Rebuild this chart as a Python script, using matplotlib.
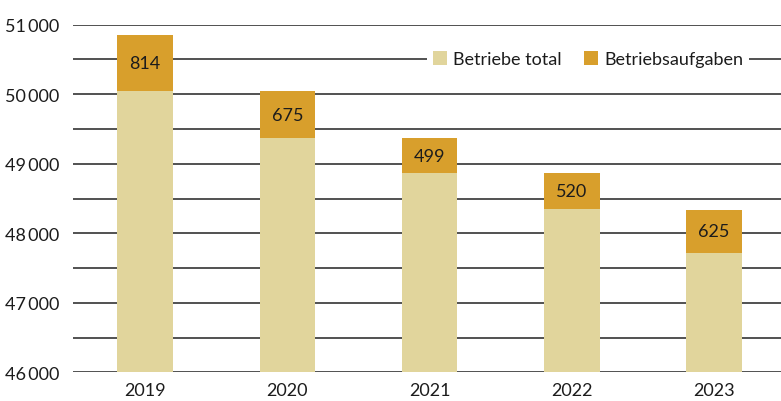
import matplotlib
matplotlib.use("Agg")
import matplotlib.pyplot as plt
from matplotlib.patches import Patch

plt.rcParams['font.family'] = ['Lato', 'DejaVu Sans']

years = ["2019", "2020", "2021", "2022", "2023"]
base_values = [50042, 49370, 48866, 48346, 47713]
aufgaben = [814, 675, 499, 520, 625]
series_names = ["Betriebe total", "Betriebsaufgaben"]
yticks = [46000, 47000, 48000, 49000, 50000, 51000]

c_base = "#e1d59c"
c_top = "#d89f2c"
txt = "#1c1c1c"

fig = plt.figure(figsize=(7.81, 4.02), dpi=100)
ax = fig.add_axes([73/781, (402-373.3)/402, (781-73)/781, (373.3-25.7)/402])

x = list(range(len(years)))
for y in range(46000, 51001, 500):
    ax.axhline(y, color="#333333", lw=1.2, zorder=1)

ax.bar(x, base_values, width=0.39, color=c_base, zorder=3)
ax.bar(x, aufgaben, width=0.39, bottom=base_values, color=c_top, zorder=3)
for xi, b, a in zip(x, base_values, aufgaben):
    ax.text(xi, b + a / 2, str(a), ha="center", va="center", fontsize=13,
            color=txt, zorder=4)

ax.set_ylim(46000, 51000)
ax.set_xlim(-0.506, 4.47)
ax.set_yticks(yticks)
ax.set_yticklabels([f"{v:,}".replace(",", "\u2009") for v in yticks], fontsize=13, color=txt)
ax.set_xticks(x)
ax.set_xticklabels(years, fontsize=13, color=txt)
ax.tick_params(axis="both", length=0)
ax.tick_params(axis="y", pad=10)
ax.tick_params(axis="x", pad=7)
for s in ax.spines.values():
    s.set_visible(False)

handles = [Patch(facecolor=c_base, edgecolor="none"), Patch(facecolor=c_top, edgecolor="none")]
leg = ax.legend(handles, series_names, loc="center",
                bbox_to_anchor=((588-73)/708, (373.3-60)/347.6),
                frameon=True, fontsize=13, ncol=2, handlelength=0.8, handleheight=0.8,
                handletextpad=0.35, columnspacing=1.2, borderpad=0.3, fancybox=False,
                labelcolor=txt)
leg.get_frame().set_facecolor("white")
leg.get_frame().set_edgecolor("none")
leg.get_frame().set_alpha(1)
leg.set_zorder(5)

fig.savefig("out.png", dpi=100)
